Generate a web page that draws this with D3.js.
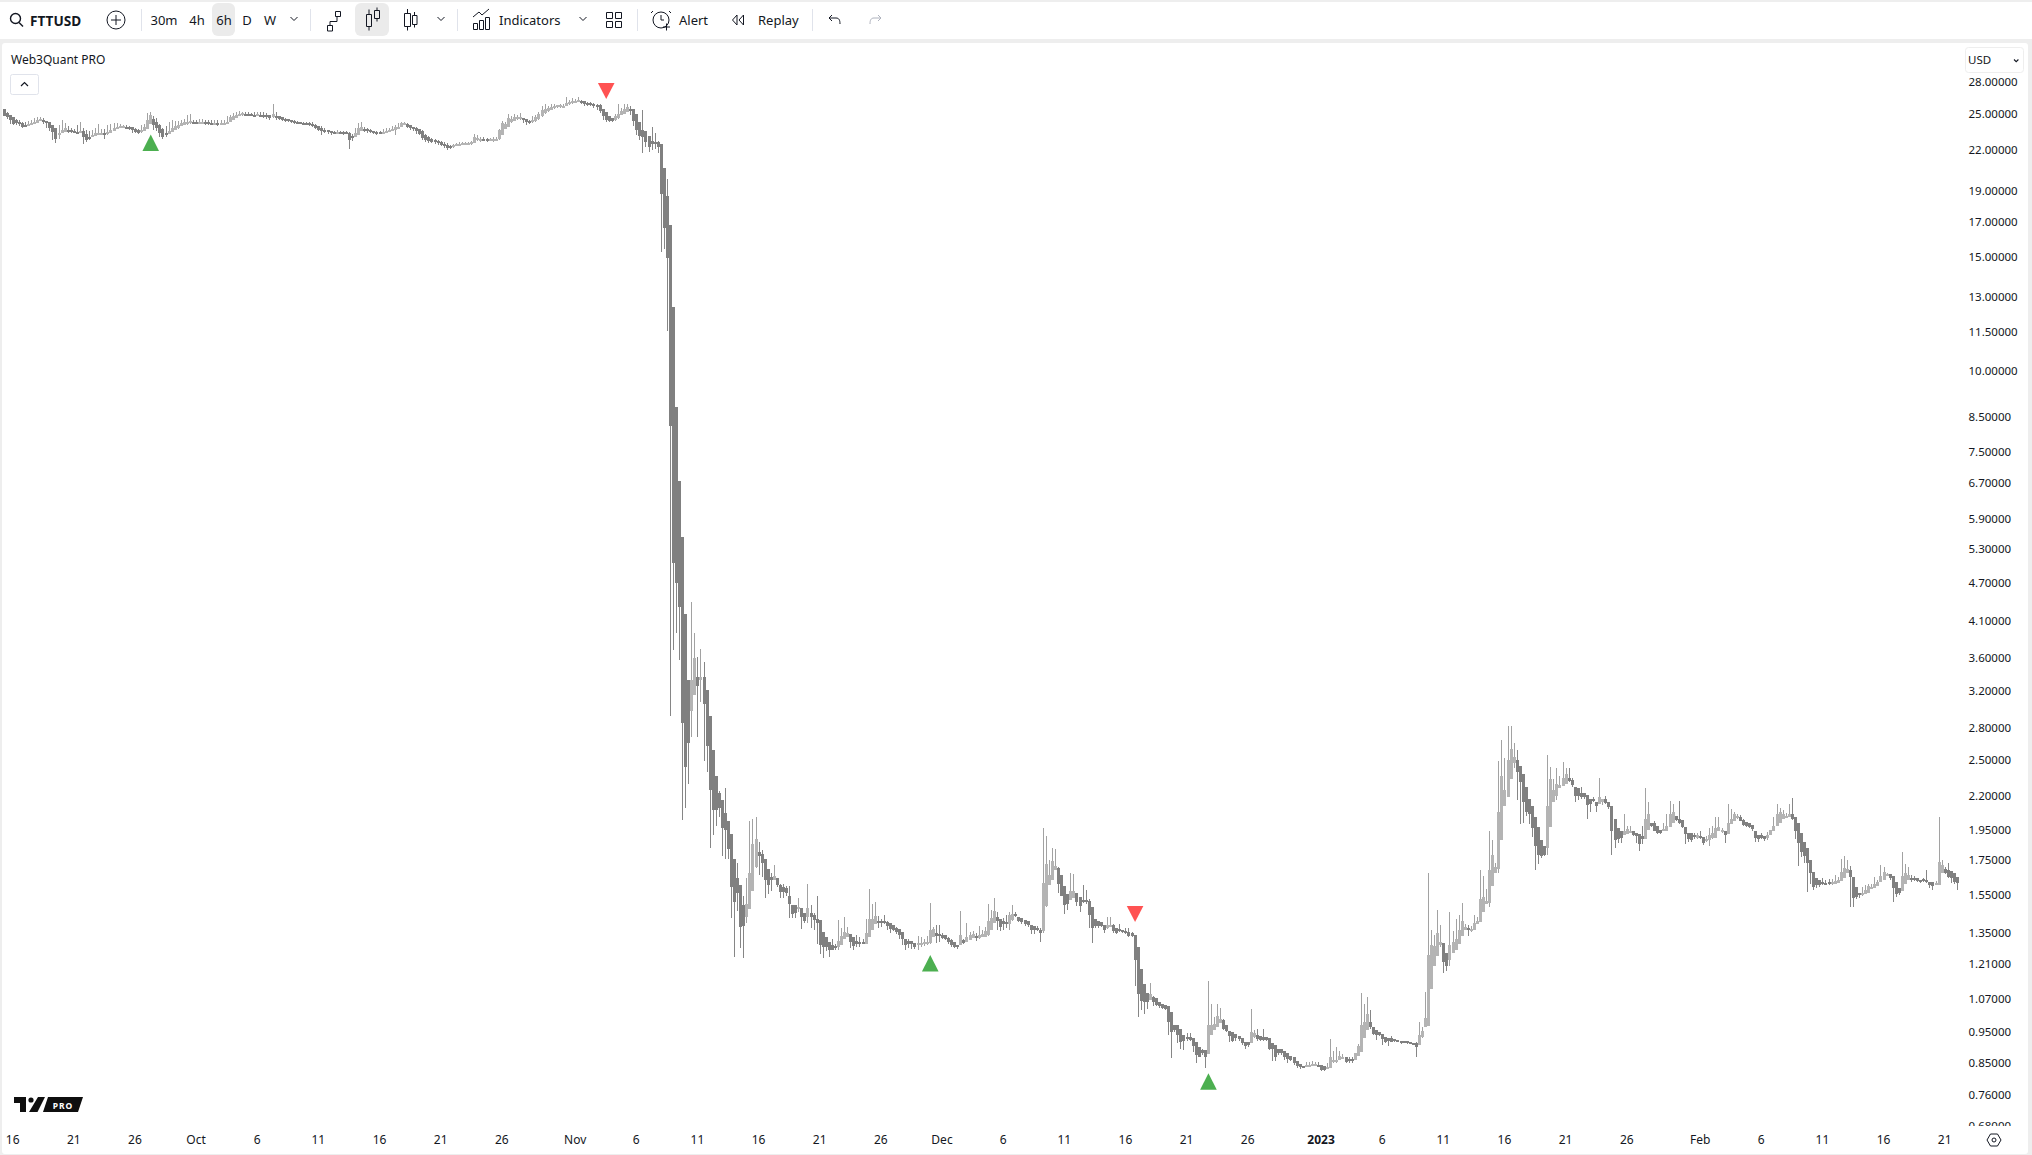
<!DOCTYPE html>
<html><head><meta charset="utf-8"><title>FTTUSD</title>
<script src="https://cdnjs.cloudflare.com/ajax/libs/d3/7.8.5/d3.min.js"></script>
<style>html,body{margin:0;padding:0;background:#fff;overflow:hidden}svg{display:block}text{font-family:"Noto Sans",sans-serif;fill:#131722}</style>
</head><body><div id="c"></div>
<script>
const symbol="FTTUSD", studyTitle="Web3Quant PRO", currency="USD", firstBar="2022-09-15T06:00:00Z", barHours=6;
const priceTicks=[28,25,22,19,17,15,13,11.5,10,8.5,7.5,6.7,5.9,5.3,4.7,4.1,3.6,3.2,2.8,2.5,2.2,1.95,1.75,1.55,1.35,1.21,1.07,0.95,0.85,0.76,0.68];
const tickDays=["2022-09-16","2022-09-21","2022-09-26","2022-10-01","2022-10-06","2022-10-11","2022-10-16","2022-10-21","2022-10-26","2022-11-01","2022-11-06","2022-11-11","2022-11-16","2022-11-21","2022-11-26","2022-12-01","2022-12-06","2022-12-11","2022-12-16","2022-12-21","2022-12-26","2023-01-01","2023-01-06","2023-01-11","2023-01-16","2023-01-21","2023-01-26","2023-02-01","2023-02-06","2023-02-11","2023-02-16","2023-02-21"];
const tickNames=["16","21","26","Oct","6","11","16","21","26","Nov","6","11","16","21","26","Dec","6","11","16","21","26","2023","6","11","16","21","26","Feb","6","11","16","21"];
const buyBars=[48,303,394], buyPrices=[23.2,1.249,0.82];
const sellBars=[197,370], sellPrices=[26.33,1.405];
const opens=[
25.42,25.08,24.9,24.68,24.4,24.29,24.21,24.02,24.0,24.06,
24.11,24.2,24.33,24.43,24.36,24.26,24.0,23.73,23.3,23.3,
23.44,23.58,23.56,23.48,23.44,23.42,23.47,23.24,23.01,22.98,
23.08,23.19,23.27,23.29,23.24,23.33,23.46,23.62,23.71,23.8,
23.84,23.83,23.8,23.69,23.57,23.46,23.53,23.68,24.07,24.49,
24.26,24.0,23.65,23.33,23.26,23.39,23.58,23.76,23.89,24.02,
24.16,24.23,24.29,24.26,24.21,24.23,24.26,24.24,24.2,24.17,
24.17,24.14,24.16,24.17,24.23,24.46,24.6,24.75,24.87,24.95,
24.94,24.93,24.9,24.88,24.9,24.88,24.87,24.84,24.71,24.82,
24.78,24.65,24.56,24.49,24.41,24.35,24.29,24.23,24.18,24.18,
24.14,24.1,24.02,23.89,23.74,
23.6,23.54,23.45,23.4,23.38,23.4,23.38,23.37,23.32,23.04,
23.01,23.17,23.45,23.66,23.62,23.57,23.51,23.43,23.37,23.35,
23.37,23.41,23.49,23.6,23.7,23.79,23.98,24.08,23.97,23.87,
23.75,23.63,23.45,23.19,22.96,22.83,22.72,22.65,22.57,22.45,
22.35,22.25,22.17,22.27,22.36,22.4,22.45,22.48,22.49,22.52,
22.75,22.83,22.83,22.82,22.8,22.8,22.8,22.83,23.2,23.69,
23.87,24.24,24.38,24.55,24.63,24.64,24.53,24.38,24.27,24.38,
24.54,24.77,25.03,25.23,25.36,25.48,25.6,25.67,25.72,25.72,
25.84,25.93,26.03,26.08,26.17,26.1,26.0,25.93,25.89,25.8,
25.76,25.4,25.13,24.78,24.6,
24.43,24.57,24.85,24.99,25.13,25.43,25.4,24.93,24.26,23.57,
23.51,23.09,22.66,22.6,22.58,22.43,20.6,18.64,16.8,12.56,
8.8,6.75,5.54,4.21,3.33,2.98,3.15,3.36,3.33,3.36,
3.21,2.93,2.59,2.36,2.22,2.17,2.07,2.01,1.92,1.76,
1.64,1.6,1.49,1.43,1.47,1.57,1.71,1.8,1.79,1.76,
1.695,1.65,1.63,1.645,1.6,1.59,1.585,1.54,1.49,1.49,
1.47,1.475,1.45,1.43,1.45,1.44,1.42,1.415,1.355,1.33,
1.31,1.295,1.29,1.285,1.295,1.32,1.33,1.345,1.33,1.315,
1.31,1.31,1.3,1.33,1.365,1.395,1.41,1.41,1.41,1.405,
1.4,1.39,1.375,1.37,1.355,1.32,1.315,1.315,1.305,1.3,
1.3,1.3,1.3,1.304,1.333,1.352,1.345,1.342,1.342,1.325,
1.316,1.31,1.295,1.295,1.318,1.31,1.318,1.325,1.337,1.325,
1.33,1.333,1.342,1.366,1.4,1.43,1.42,1.41,1.403,1.397,
1.413,1.445,1.43,1.425,1.415,1.41,1.39,1.385,1.376,1.367,
1.358,1.485,1.6,1.63,1.69,1.7,1.66,1.596,1.55,1.52,
1.53,1.556,1.535,1.52,1.52,1.515,1.48,1.42,1.41,1.403,
1.39,1.375,1.386,1.39,1.375,1.37,1.365,1.358,1.355,1.35,
1.342,1.287,1.19,1.128,1.09,1.064,1.075,1.07,1.056,1.05,
1.045,1.04,1.02,.975,.975,.96,.94,.932,.932,.928,
.915,.9,.89,.89,.878,.94,.955,.965,.98,.99,
.975,.953,.95,.943,.936,.93,.917,.917,.914,.932,
.94,.935,.932,.932,.928,.914,.906,.892,.892,.888,
.88,.872,.867,.855,.846,.842,.84,.842,.843,.843,
.845,.843,.84,.835,.835,.852,.853,.86,.865,.868,
.863,.862,.858,.873,.885,.928,.955,.985,.968,.955,
.95,.943,.933,.93,.928,.925,.923,.92,.919,.918,
.916,.914,.914,.905,.932,.967,.97,1.107,1.2,1.245,
1.295,1.302,1.26,1.225,1.26,1.27,1.3,1.335,1.365,1.375,
1.365,1.365,1.395,1.405,1.455,1.5,1.505,1.595,1.67,1.695,
1.88,2.125,2.19,2.34,2.47,2.5,2.45,2.38,2.27,2.18,
2.125,2.045,1.97,1.88,1.84,1.825,1.97,2.15,2.2,2.26,
2.28,2.3,2.345,2.33,2.27,2.26,2.225,2.22,2.21,2.18,
2.175,2.155,2.14,2.155,2.18,2.155,2.12,2.03,1.96,1.945,
1.915,1.92,1.93,1.94,1.93,1.92,1.905,1.89,1.95,2.0,
2.0,1.98,1.95,1.945,1.945,1.97,2.0,2.05,2.03,2.02,
1.97,1.925,1.925,1.915,1.895,1.91,1.9,1.88,1.88,1.895,
1.895,1.94,1.94,1.945,1.92,1.99,2.015,2.04,2.04,2.02,
2.005,1.995,1.985,1.945,1.915,1.915,1.905,1.895,1.915,1.945,
1.98,2.0,2.03,2.045,2.045,2.06,2.045,1.995,1.925,1.87,
1.825,1.75,1.68,1.64,1.63,1.62,1.615,1.617,1.61,1.61,
1.615,1.625,1.64,1.67,1.69,1.65,1.59,1.56,1.55,1.55,
1.56,1.58,1.585,1.595,1.62,1.63,1.655,1.665,1.655,1.62,
1.585,1.57,1.61,1.63,1.645,1.645,1.64,1.63,1.635,1.63,
1.62,1.62,1.605,1.6,1.675,1.695,1.69,1.685,1.67,1.65];
const closes=[
24.75,24.69,24.46,24.11,24.17,24.14,23.82,24.0,24.11,24.17,
24.29,24.46,24.52,24.29,24.17,23.73,23.44,22.87,23.3,23.59,
23.71,23.53,23.42,23.39,23.42,23.53,23.01,22.78,22.95,23.18,
23.3,23.36,23.3,23.18,23.42,23.59,23.76,23.82,23.88,23.88,
23.82,23.76,23.59,23.44,23.36,23.59,23.82,24.46,24.9,24.02,
23.73,23.3,23.01,23.18,23.53,23.76,23.94,24.02,24.17,24.29,
24.29,24.34,24.23,24.17,24.23,24.29,24.23,24.17,24.14,24.17,
24.11,24.17,24.17,24.29,24.69,24.75,24.9,24.98,25.04,24.92,
24.92,24.87,24.87,24.92,24.87,24.87,24.81,24.58,24.92,24.75,
24.52,24.46,24.4,24.34,24.29,24.23,24.17,24.14,24.17,24.11,
24.05,23.94,23.76,23.59,23.47,
23.48,23.37,23.34,23.37,23.4,23.37,23.34,23.28,22.74,22.98,
23.34,23.72,23.87,23.57,23.51,23.45,23.34,23.31,23.34,23.4,
23.45,23.57,23.69,23.81,23.87,24.17,24.17,23.87,23.75,23.63,
23.51,23.28,22.92,22.74,22.68,22.62,22.56,22.5,22.32,22.26,
22.14,22.08,22.38,22.44,22.44,22.5,22.5,22.5,22.56,22.98,
22.92,22.83,22.8,22.77,22.8,22.8,22.86,23.57,24.17,24.05,
24.62,24.53,24.71,24.71,24.65,24.41,24.23,24.17,24.47,24.71,
25.0,25.3,25.42,25.48,25.6,25.72,25.75,25.75,25.72,25.96,
26.02,26.14,26.14,26.26,26.02,25.9,25.87,25.84,25.72,25.72,
25.21,24.78,24.43,24.37,24.37,
24.78,24.99,25.2,25.43,25.57,25.2,24.37,23.57,23.09,23.01,
22.58,22.2,22.46,22.52,22.2,18.77,16.63,14.94,8.22,5.04,
4.7,4.31,2.85,2.44,2.66,3.33,3.6,3.26,3.36,3.05,
2.63,2.25,2.09,2.09,2.11,1.96,1.95,1.82,1.59,1.51,
1.56,1.38,1.385,1.5,1.675,1.855,1.89,1.775,1.73,1.63,
1.6,1.63,1.655,1.6,1.565,1.565,1.56,1.5,1.445,1.45,
1.48,1.43,1.41,1.475,1.43,1.415,1.4,1.295,1.285,1.285,
1.27,1.27,1.28,1.315,1.335,1.355,1.35,1.31,1.29,1.3,
1.305,1.305,1.35,1.42,1.42,1.435,1.4,1.4,1.405,1.385,
1.37,1.365,1.355,1.34,1.32,1.295,1.3,1.3,1.285,1.305,
1.305,1.31,1.31,1.366,1.37,1.337,1.337,1.325,1.32,1.31,
1.295,1.286,1.286,1.342,1.305,1.333,1.342,1.345,1.33,1.342,
1.347,1.358,1.408,1.425,1.46,1.408,1.382,1.397,1.4,1.44,
1.447,1.44,1.41,1.403,1.397,1.39,1.367,1.365,1.367,1.35,
1.611,1.727,1.66,1.746,1.716,1.61,1.54,1.49,1.495,1.566,
1.57,1.51,1.485,1.513,1.51,1.44,1.375,1.383,1.383,1.385,
1.365,1.39,1.392,1.358,1.35,1.365,1.355,1.352,1.335,1.335,
1.228,1.087,1.06,1.056,1.056,1.087,1.056,1.045,1.04,1.035,
1.03,.985,.95,.955,.94,.915,.92,.925,.923,.903,
.875,.87,.88,.87,.972,.975,.978,1.005,.995,.958,
.953,.935,.92,.928,.925,.912,.903,.906,.95,.945,
.925,.923,.923,.923,.895,.893,.87,.88,.88,.87,
.862,.858,.85,.84,.838,.838,.844,.845,.846,.846,
.843,.83,.828,.838,.87,.86,.86,.872,.87,.853,
.86,.857,.88,.903,.972,.985,1.012,.965,.943,.938,
.938,.926,.917,.92,.917,.92,.92,.912,.915,.914,
.913,.912,.9,.938,.952,.998,1.25,1.295,1.288,1.35,
1.31,1.22,1.2,1.295,1.31,1.32,1.365,1.41,1.38,1.365,
1.37,1.4,1.41,1.525,1.535,1.515,1.69,1.785,1.71,2.08,
2.365,2.25,2.5,2.6,2.53,2.4,2.31,2.155,2.08,2.06,
1.96,1.84,1.785,1.775,1.785,2.125,2.335,2.245,2.3,2.285,
2.345,2.38,2.32,2.285,2.2,2.2,2.195,2.195,2.13,2.14,
2.165,2.12,2.19,2.175,2.145,2.115,1.945,1.88,1.89,1.895,
1.945,1.955,1.945,1.915,1.905,1.855,1.885,2.03,2.06,1.98,
1.945,1.925,1.925,1.955,1.98,2.06,2.08,2.02,2.0,1.97,
1.92,1.89,1.88,1.9,1.915,1.9,1.86,1.89,1.915,1.925,
1.96,1.97,1.95,1.915,1.995,2.03,2.06,2.05,2.015,1.985,
1.975,1.97,1.955,1.895,1.89,1.895,1.885,1.915,1.95,1.98,
2.06,2.075,2.06,2.05,2.065,2.03,1.94,1.86,1.805,1.775,
1.73,1.67,1.59,1.6,1.6,1.61,1.61,1.61,1.617,1.625,
1.63,1.68,1.7,1.695,1.65,1.53,1.535,1.555,1.56,1.575,
1.595,1.59,1.61,1.62,1.655,1.68,1.665,1.64,1.585,1.55,
1.555,1.655,1.67,1.66,1.63,1.635,1.625,1.62,1.625,1.62,
1.6,1.595,1.615,1.74,1.72,1.67,1.65,1.64,1.62,1.615];
const highs=[
25.42,25.1,24.9,24.69,24.52,24.46,24.23,24.23,24.32,24.46,
24.6,24.69,24.69,24.6,24.32,24.11,23.73,23.53,24.03,24.46,
24.17,23.94,23.73,23.65,24.03,24.23,23.73,23.59,23.45,23.59,
23.73,24.11,23.65,23.65,24.03,24.05,24.17,24.17,24.11,24.03,
24,23.88,23.82,23.73,23.65,24,24.11,25.04,25.13,24.75,
24.6,24.11,23.73,23.88,24.23,24.4,24.32,24.32,24.46,24.52,
24.9,24.98,24.46,24.46,24.52,24.52,24.46,24.46,24.46,24.4,
24.4,24.46,24.4,24.75,24.9,25.04,25.1,25.27,25.16,25.1,
25.1,25.04,25.1,25.16,25.1,25.1,25.04,24.9,25.85,25.1,
24.81,24.69,24.63,24.52,24.46,24.4,24.34,24.29,24.29,24.29,
24.26,24.23,24.11,23.94,23.88,
23.72,23.57,23.51,23.45,23.57,23.45,23.51,23.51,23.43,23.28,
23.72,24.17,24.23,23.81,23.72,23.63,23.51,23.51,23.51,23.63,
23.72,23.78,23.93,24.02,24.17,24.23,24.26,24.17,23.99,23.87,
23.81,23.69,23.57,23.28,23.04,22.92,22.8,22.74,22.68,22.56,
22.47,22.38,22.44,22.53,22.59,22.62,22.59,22.59,22.68,23.28,
23.13,22.98,22.98,22.95,22.95,22.98,22.98,23.63,24.32,24.23,
25,24.77,25,24.91,25.06,24.62,24.53,24.47,24.77,24.91,
25.12,25.66,25.9,25.72,25.9,25.9,25.81,25.9,25.84,26.49,
26.26,26.41,26.32,26.49,26.26,26.11,26.08,26.02,25.96,25.9,
25.9,25.4,25.13,24.78,24.6,
24.99,25.84,25.5,25.84,25.84,25.66,25.4,24.93,24.26,25.31,
23.51,23.09,23.87,23.29,22.66,22.43,20.6,19.8,16.8,12.56,
8.8,6.75,5.54,4.21,3.33,4.39,3.93,3.61,3.72,3.54,
3.21,2.93,2.59,2.36,2.24,2.17,2.26,2.01,1.92,1.76,
1.73,1.6,1.54,1.64,2.01,2.03,2.045,1.87,1.815,1.76,
1.695,1.67,1.72,1.645,1.61,1.61,1.595,1.595,1.49,1.49,
1.53,1.475,1.45,1.61,1.49,1.45,1.54,1.415,1.355,1.33,
1.31,1.32,1.3,1.415,1.375,1.43,1.38,1.345,1.33,1.34,
1.33,1.32,1.42,1.58,1.5,1.51,1.435,1.42,1.44,1.41,
1.4,1.39,1.38,1.37,1.355,1.32,1.32,1.315,1.305,1.335,
1.33,1.32,1.335,1.504,1.38,1.388,1.39,1.35,1.342,1.33,
1.32,1.31,1.295,1.46,1.32,1.402,1.354,1.358,1.35,1.387,
1.366,1.38,1.5,1.465,1.53,1.455,1.42,1.423,1.44,1.455,
1.49,1.455,1.43,1.425,1.415,1.41,1.39,1.385,1.385,1.375,
1.96,1.91,1.75,1.83,1.82,1.71,1.66,1.596,1.55,1.67,
1.665,1.556,1.535,1.6,1.575,1.525,1.48,1.42,1.41,1.403,
1.39,1.43,1.43,1.395,1.375,1.395,1.365,1.375,1.375,1.355,
1.342,1.287,1.19,1.128,1.09,1.132,1.08,1.07,1.056,1.05,
1.045,1.04,1.02,.975,.975,.96,.94,.945,.945,.928,
.915,.9,.892,.89,1.14,1.05,1.0,1.05,1.035,.995,
.975,.953,.95,.943,.936,.93,.917,.917,1.03,.955,
.96,.935,.958,.932,.928,.914,.906,.892,.892,.888,
.88,.872,.867,.855,.846,.842,.853,.853,.856,.853,
.853,.843,.84,.85,.925,.888,.9,.888,.878,.868,
.87,.87,.88,.91,1.09,1.05,1.075,1.025,.968,.955,
.95,.943,.933,.93,.935,.925,.923,.92,.919,.918,
.916,.914,.916,.985,.966,1.096,1.67,1.365,1.34,1.465,
1.39,1.302,1.26,1.455,1.36,1.42,1.44,1.505,1.395,1.39,
1.385,1.44,1.43,1.69,1.655,1.58,1.945,1.88,1.73,2.49,
2.69,2.52,2.82,2.82,2.66,2.59,2.45,2.38,2.27,2.18,
2.125,2.045,1.97,1.88,1.84,2.55,2.44,2.335,2.43,2.36,
2.48,2.43,2.43,2.345,2.27,2.26,2.27,2.22,2.21,2.18,
2.19,2.155,2.345,2.175,2.2,2.155,2.12,2.03,1.96,1.945,
2.06,1.98,1.975,1.94,1.93,1.92,1.98,2.26,2.15,2.0,
2.01,1.98,1.95,1.995,2.06,2.16,2.14,2.05,2.16,2.02,
1.97,1.925,1.925,1.93,1.93,1.94,1.9,1.91,1.96,1.975,
2.045,2.045,1.96,1.945,2.14,2.1,2.08,2.065,2.055,2.03,
2.005,1.995,1.985,1.945,1.915,1.93,1.905,1.935,1.95,2.04,
2.135,2.105,2.09,2.07,2.135,2.185,2.045,1.995,1.925,1.87,
1.825,1.75,1.68,1.645,1.63,1.64,1.63,1.635,1.635,1.66,
1.65,1.76,1.775,1.75,1.715,1.65,1.59,1.56,1.59,1.6,
1.61,1.61,1.65,1.63,1.72,1.71,1.675,1.665,1.655,1.62,
1.585,1.8,1.725,1.71,1.66,1.655,1.64,1.63,1.64,1.69,
1.62,1.62,1.625,2.045,1.75,1.71,1.735,1.685,1.67,1.65];
const lows=[
24.75,24.52,24.11,24.03,24.03,23.94,23.73,23.94,24.05,24.11,
24.17,24.23,24.32,24.11,23.73,23.53,22.78,22.49,22.87,23.3,
23.45,23.3,23.3,23.3,23.3,23.3,22.43,22.58,22.78,23.01,
23.16,23.21,23.16,22.87,23.16,23.45,23.59,23.71,23.71,23.73,
23.71,23.59,23.36,23.3,23.24,23.36,23.53,23.82,24.17,23.59,
23.45,23.01,22.87,23.01,23.3,23.45,23.59,23.65,24.03,24.11,
24.03,24.11,24.11,24.08,24.08,24.11,24.03,24,24,24,
23.94,24,24,24.11,24.23,24.52,24.58,24.75,24.81,24.81,
24.75,24.75,24.75,24.81,24.75,24.58,24.52,24.46,24.58,24.4,
24.4,24.34,24.29,24.23,24.17,24.11,24.05,24.08,24.08,24.05,
23.88,23.82,23.65,23.45,23.16,
23.34,23.22,23.19,23.28,23.28,23.22,23.16,23.22,22.02,22.68,
22.98,23.43,23.63,23.43,23.34,23.34,23.25,23.19,23.28,23.34,
23.37,23.43,23.51,23.13,23.63,23.87,24.02,23.72,23.57,23.45,
23.28,23.13,22.74,22.62,22.5,22.5,22.44,22.38,22.23,22.14,
21.93,22.02,22.14,22.29,22.38,22.44,22.38,22.38,22.38,22.5,
22.68,22.62,22.68,22.56,22.68,22.62,22.74,22.74,23.13,23.63,
23.81,24.17,24.32,24.47,24.41,24.17,24.02,24.08,24.17,24.29,
24.47,24.71,25,25.18,25.3,25.42,25.51,25.51,25.6,25.66,
25.81,25.84,25.96,26.08,25.9,25.72,25.72,25.66,25.51,25.36,
25.06,24.43,24.29,24.29,24.23,
24.37,24.5,24.85,24.99,25.13,24.85,23.95,23.15,22.75,21.7,
22.2,21.78,21.95,22.07,21.7,15.29,15.43,11.54,2.92,3.7,
3.93,3.57,2.02,2.11,2.3,2.71,3.15,2.71,3.07,2.49,
2.4,1.83,1.915,1.98,2.04,1.775,1.76,1.76,1.425,1.24,
1.46,1.28,1.235,1.4,1.47,1.57,1.7,1.66,1.65,1.53,
1.55,1.57,1.63,1.59,1.53,1.53,1.54,1.425,1.425,1.425,
1.455,1.37,1.4,1.4,1.375,1.365,1.3,1.255,1.235,1.265,
1.24,1.27,1.27,1.27,1.295,1.32,1.33,1.28,1.27,1.285,
1.285,1.3,1.3,1.33,1.365,1.395,1.375,1.38,1.395,1.365,
1.35,1.36,1.345,1.32,1.295,1.27,1.28,1.275,1.275,1.27,
1.285,1.29,1.295,1.3,1.33,1.305,1.31,1.32,1.316,1.3,
1.286,1.28,1.276,1.295,1.3,1.31,1.318,1.325,1.313,1.32,
1.33,1.333,1.337,1.366,1.4,1.366,1.36,1.367,1.375,1.365,
1.41,1.43,1.405,1.395,1.383,1.38,1.348,1.345,1.36,1.31,
1.35,1.48,1.6,1.63,1.69,1.556,1.54,1.447,1.465,1.52,
1.53,1.485,1.455,1.505,1.5,1.375,1.305,1.375,1.375,1.38,
1.35,1.37,1.385,1.35,1.347,1.355,1.35,1.345,1.33,1.33,
1.118,1.0,1.025,1.012,1.03,1.064,1.04,1.04,1.035,1.03,
1.025,.94,.865,.95,.912,.892,.89,.92,.92,.885,
.85,.87,.875,.835,.878,.94,.955,.965,.98,.955,
.95,.915,.915,.92,.92,.908,.895,.9,.912,.93,
.92,.918,.918,.92,.89,.856,.856,.875,.875,.86,
.85,.855,.845,.835,.832,.835,.84,.84,.84,.842,
.84,.826,.826,.833,.835,.85,.85,.86,.862,.85,
.85,.85,.858,.873,.885,.928,.955,.96,.94,.923,
.935,.906,.912,.903,.915,.915,.915,.91,.912,.91,
.91,.91,.868,.905,.93,.967,.97,1.107,1.2,1.245,
1.285,1.17,1.18,1.2,1.26,1.27,1.3,1.335,1.365,1.335,
1.355,1.365,1.395,1.405,1.455,1.5,1.48,1.595,1.67,1.67,
1.88,2.125,2.19,2.34,2.43,2.17,1.99,2.0,2.05,1.99,
1.9,1.69,1.725,1.765,1.775,1.785,1.97,2.15,2.17,2.26,
2.28,2.3,2.31,2.27,2.15,2.17,2.18,2.18,2.03,2.08,
2.15,2.08,2.14,2.13,2.14,2.1,1.785,1.825,1.86,1.86,
1.915,1.92,1.925,1.91,1.86,1.81,1.855,1.89,1.95,1.97,
1.94,1.92,1.92,1.945,1.945,1.97,2.0,2.01,1.99,1.96,
1.855,1.87,1.865,1.89,1.89,1.89,1.85,1.87,1.84,1.89,
1.895,1.94,1.93,1.86,1.92,1.99,2.015,2.03,2.01,1.975,
1.97,1.96,1.945,1.87,1.87,1.885,1.875,1.88,1.915,1.945,
1.98,2.0,2.03,2.04,2.045,2.02,1.89,1.715,1.77,1.73,
1.565,1.61,1.575,1.585,1.59,1.6,1.6,1.6,1.6,1.61,
1.615,1.625,1.64,1.67,1.48,1.48,1.525,1.53,1.54,1.55,
1.56,1.58,1.585,1.595,1.62,1.63,1.655,1.63,1.51,1.535,
1.545,1.57,1.61,1.63,1.62,1.625,1.62,1.615,1.62,1.615,
1.585,1.575,1.6,1.6,1.675,1.665,1.645,1.615,1.61,1.575];

const W=2032,H=1155;
const barTime=i=>new Date(Date.parse(firstBar)+i*barHours*3600e3);
const n=closes.length;
const x=d3.scaleUtc().domain([barTime(0),barTime(639)]).range([4,1957.4]);
const y=d3.scaleLog().domain([28,0.68]).range([81.7,1125.7]);
const svg=d3.select("#c").append("svg").attr("width",W).attr("height",H).attr("viewBox",`0 0 ${W} ${H}`);
const defs=svg.append("defs");
defs.append("clipPath").attr("id","plot").append("rect").attr("x",2).attr("y",43).attr("width",1962).attr("height",1090);
defs.append("clipPath").attr("id","pa").append("rect").attr("x",1960).attr("y",43).attr("width",68).attr("height",1083);
// frame
svg.append("rect").attr("width",W).attr("height",H).attr("fill","#eeeeee");
svg.append("rect").attr("x",0).attr("y",2).attr("width",W).attr("height",37).attr("fill","#fff");
svg.append("rect").attr("x",2).attr("y",43).attr("width",2026).attr("height",1111).attr("rx",3).attr("fill","#fff");

// candles
const bars=svg.append("g").attr("clip-path","url(#plot)").attr("shape-rendering","crispEdges");
const DOWN="#808080",UP="#b4b4b4",DW="#868686",UW="#a2a2a2";
d3.range(n).forEach(i=>{
  const up=closes[i]>=opens[i], left=Math.round(x(barTime(i))-1.5);
  const yh=Math.round(y(Math.max(highs[i],opens[i],closes[i]))), yl=Math.round(y(Math.min(lows[i],opens[i],closes[i])));
  const yt=Math.round(y(Math.max(opens[i],closes[i]))), yb=Math.round(y(Math.min(opens[i],closes[i])));
  bars.append("rect").attr("x",left+1).attr("width",1).attr("y",yh).attr("height",Math.max(1,yl-yh)).attr("fill",up?UW:DW);
  bars.append("rect").attr("x",left).attr("width",3).attr("y",yt).attr("height",Math.max(2,yb-yt)).attr("fill",up?UP:DOWN);
});
// signals
const tri=d3.line();
buyBars.forEach((b,i)=>{const c=x(barTime(b)),t=y(buyPrices[i]);
  svg.append("path").attr("d",tri([[c,t],[c+8.3,t+16.5],[c-8.3,t+16.5]])+"Z").attr("fill","#4caf50");});
sellBars.forEach((b,i)=>{const c=x(barTime(b)),t=y(sellPrices[i]);
  svg.append("path").attr("d",tri([[c,t],[c+8.3,t-16],[c-8.3,t-16]])+"Z").attr("fill","#ff5252");});

// axes
const fmt=d3.format(".5f");
const ay=svg.append("g").attr("clip-path","url(#pa)").append("g").attr("transform","translate(1968.5,0)")
  .call(d3.axisRight(y).tickValues(priceTicks).tickFormat(fmt).tickSize(0).tickPadding(0));
ay.select(".domain").remove();
ay.selectAll("text").style("font-family",'"Noto Sans",sans-serif').style("font-size","11.5px").attr("fill","#131722").attr("text-anchor","start").attr("x",0);
const tickDates=tickDays.map(d=>new Date(d+"T00:00:00Z"));
const ax=svg.append("g").attr("transform","translate(-1,1135)")
  .call(d3.axisBottom(x).tickValues(tickDates).tickFormat((d,i)=>tickNames[i]).tickSize(0).tickPadding(0));
ax.select(".domain").remove();
ax.selectAll("text").style("font-family",'"Noto Sans",sans-serif').style("font-size","12px").attr("fill","#131722")
  .style("font-weight",(d,i)=>tickNames[i]==="2023"?"700":"400");

// toolbar
const tb=svg.append("g");
const ink="#131722";
const label=(t,xx,yy,a,size,w,col)=>tb.append("text").text(t).attr("x",xx).attr("y",yy).attr("text-anchor",a||"start").attr("dominant-baseline","central").style("font-size",(size||13)+"px").style("font-weight",w||400).style("fill",col||ink);
const stroke=(d,col,sw)=>tb.append("path").attr("d",d).attr("fill","none").attr("stroke",col||ink).attr("stroke-width",sw||1);
const sep=xx=>tb.append("rect").attr("x",xx).attr("y",9).attr("width",1).attr("height",22).attr("fill","#e0e3eb");
const chev=(xx,yy)=>stroke(`M${xx-3.5} ${yy-2}l3.5 3.5l3.5 -3.5`,ink,1);
tb.append("circle").attr("cx",15.5).attr("cy",18.5).attr("r",5).attr("fill","none").attr("stroke",ink).attr("stroke-width",1.4);
stroke("M19 22.5l4 4",ink,1.4);
label(symbol,30,20,"start",13.6,700);
tb.append("circle").attr("cx",116).attr("cy",20).attr("r",9).attr("fill","none").attr("stroke",ink);
stroke("M111 20h10M116 15v10");
sep(141);
tb.append("rect").attr("x",212).attr("y",3).attr("width",23).attr("height",33).attr("rx",6).attr("fill","#ebebeb");
label("30m",164,20,"middle");label("4h",197,20,"middle");label("6h",224,20,"middle");label("D",247,20,"middle");label("W",270,20,"middle");
chev(294,19);sep(310);
// chart-type icons
stroke("M327.5 25.5h5v5.5h-5zM330 25.5v-4h7v-5M335.5 11.5h5v5h-5z");
tb.append("rect").attr("x",355).attr("y",3).attr("width",34).attr("height",33).attr("rx",6).attr("fill","#ebebeb");
stroke("M366.5 14.5h5v12h-5zM369 14.5v-5M369 26.5v4M374.5 10.5h5v8h-5zM377 10.5v-3M377 18.5v3");
stroke("M404.5 13.5h6v13h-6zM407.5 9v4.5M407.5 26.5v4M412.5 15.5h4.5v9h-4.5zM414.5 12v3.5M414.5 24.5v3");
chev(441,19);sep(457);
// indicators
stroke("M473.5 23.5h4v6h-4zM479.5 20.5h4v9h-4zM485.5 17.5h4v12h-4zM473 17l6 -5l3 3l7 -6");
label("Indicators",499,20,"start",13);
chev(583,19);
stroke("M606.5 12.5h6v6h-6zM615.5 12.5h6v6h-6zM606.5 21.5h6v6h-6zM615.5 21.5h6v6h-6z");
sep(637);
tb.append("circle").attr("cx",661).attr("cy",20).attr("r",8).attr("fill","none").attr("stroke",ink);
stroke("M661 15v5h3M653 11l-2 2M669 11l2 2M663 27h7M666.5 23.5v7");
label("Alert",679,20,"start",13);
stroke("M737 15l-4.5 5l4.5 5zM743.5 15l-4.5 5l4.5 5z");
label("Replay",758,20,"start",13);
sep(812);
stroke("M832 15l-3 3l3 3M829 18h7c3 0 4 2 4 6");
stroke("M878 15l3 3l-3 3M881 18h-7c-3 0 -4 2 -4 6","#aeb2bd");

// legend & overlays
tb.append("text").text(studyTitle).attr("x",11).attr("y",59).attr("dominant-baseline","central").style("font-size","12px");
tb.append("rect").attr("x",10.5).attr("y",74.5).attr("width",28).attr("height",20).attr("rx",2).attr("fill","#fff").attr("stroke","#e0e3eb");
stroke("M21 86l3.5 -3.5l3.5 3.5",ink,1.2);
tb.append("rect").attr("x",1965.5).attr("y",47.5).attr("width",58).attr("height",25).attr("rx",3).attr("fill","#fff").attr("stroke","#eeeeee");
tb.append("text").text(currency).attr("x",1968).attr("y",59).attr("dominant-baseline","central").style("font-size","11.5px");
stroke("M2014 59.5l2.2 2.2l2.2 -2.2",ink,1.1);
// settings glyph
stroke("M1987 1140l3.5 -6h7l3.5 6l-3.5 6h-7z");
tb.append("circle").attr("cx",1994).attr("cy",1140).attr("r",2).attr("fill","none").attr("stroke",ink);
// logo
const logo=svg.append("g");
logo.append("path").attr("d","M14 1097h12v15h-6v-9h-6zM38 1097h7l-7.5 15h-8.5z").attr("fill","#0f0f0f");
logo.append("circle").attr("cx",31).attr("cy",1100).attr("r",2.6).attr("fill","#0f0f0f");
logo.append("path").attr("d","M48 1097h35l-5 15h-35z").attr("fill","#0f0f0f");
logo.append("text").text("PRO").attr("x",63).attr("y",1105).attr("text-anchor","middle").attr("dominant-baseline","central").style("font-size","8.5px").style("font-weight",700).style("letter-spacing","1px").style("fill","#fff");
</script></body></html>
